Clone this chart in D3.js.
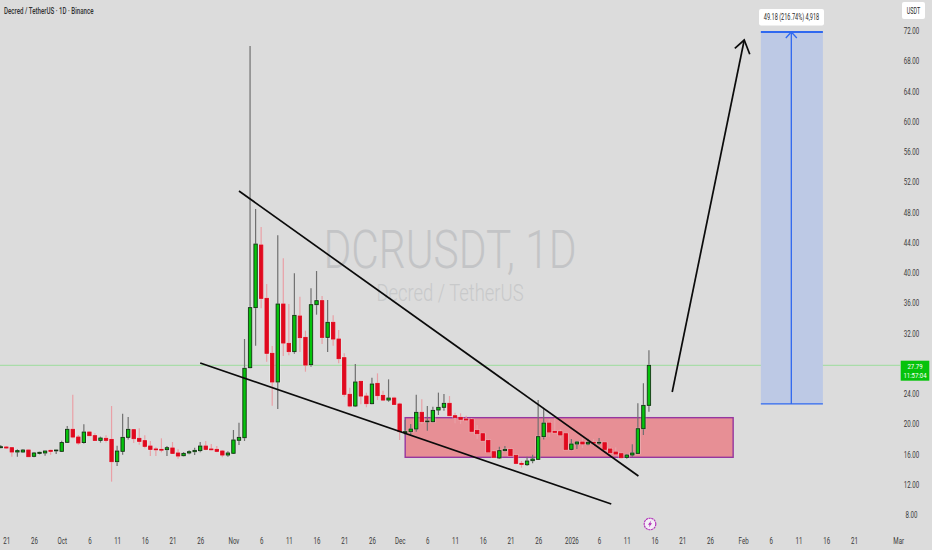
<!DOCTYPE html>
<html>
<head>
<meta charset="utf-8">
<script src="https://cdn.jsdelivr.net/npm/d3@7/dist/d3.min.js"></script>
<style>
html,body{margin:0;padding:0;background:#dcdcdc;overflow:hidden}
svg{display:block}
text{font-family:Roboto,"Liberation Sans",sans-serif}
</style>
</head>
<body>
<div id="chart"></div>
<script>
// Day offset from 1 Oct 2025 of the first candle; one candle per day
const firstDay = -11;
const opens = [16.90,16.99,16.90,16.33,16.33,16.59,15.76,16.15,16.20,16.55,16.51,16.42,17.61,19.33,18.31,17.58,18.97,18.49,17.87,18.14,18.00,15.05,16.42,18.27,19.28,18.14,17.83,17.12,16.73,16.68,16.64,16.86,16.20,15.84,16.20,16.37,16.51,17.12,16.73,16.68,16.46,15.93,16.16,17.88,18.22,27.48,35.42,43.70,36.65,29.38,25.59,35.90,30.70,29.60,34.31,31.49,27.88,35.81,36.34,31.49,33.48,31.27,28.80,23.96,22.41,25.67,23.73,22.72,25.41,23.82,23.20,23.47,22.68,18.89,19.02,19.37,21.58,20.34,20.34,21.88,22.24,22.77,21.13,20.91,20.69,20.61,19.19,18.75,17.87,16.37,15.54,16.51,16.68,15.89,14.83,14.65,15.18,15.36,18.36,20.16,19.06,19.02,18.75,16.68,17.39,17.65,17.39,17.61,17.52,17.56,16.73,16.33,16.11,15.62,15.93,16.15,19.41,22.50];
const highs = [17.26,17.12,16.95,16.68,16.73,16.64,16.33,16.37,16.51,16.64,16.64,17.83,19.77,23.91,18.58,19.99,19.02,18.80,18.36,18.53,22.41,17.17,21.40,20.96,19.37,19.46,18.53,17.78,16.95,18.14,17.12,17.65,16.68,16.33,16.55,16.90,17.65,17.78,17.39,17.12,16.59,16.42,19.24,20.21,31.27,70.02,48.46,46.08,38.55,30.35,44.98,41.94,35.90,39.96,36.87,32.37,37.97,40.26,36.96,36.43,34.40,32.46,29.38,24.84,27.97,25.76,24.17,26.16,26.73,24.44,25.94,23.65,22.85,20.56,20.03,23.91,23.29,22.41,22.32,24.18,24.00,23.73,21.53,21.44,21.13,20.78,19.90,18.89,18.05,16.59,17.03,17.12,16.81,16.07,15.14,15.71,15.98,23.21,22.10,20.69,20.78,19.33,18.80,18.05,17.78,18.18,18.09,18.05,18.18,17.65,16.95,16.95,16.24,16.06,17.34,22.77,25.41,29.77];
const lows = [16.81,16.77,15.71,15.71,16.24,15.67,15.63,16.02,15.84,15.98,16.07,16.33,17.52,18.14,17.30,17.43,18.45,17.78,17.58,17.58,12.41,14.48,15.98,18.00,17.52,17.30,16.81,15.80,15.80,16.29,15.80,16.11,15.45,15.76,16.02,15.93,16.29,16.55,16.55,16.29,15.63,15.71,16.07,17.26,17.79,27.39,30.39,35.33,28.27,22.45,22.01,29.02,29.11,29.33,29.55,26.95,27.61,34.49,30.61,29.55,30.39,28.05,23.65,22.24,22.32,22.63,22.24,22.63,23.20,23.07,22.98,22.54,17.92,18.58,18.58,19.02,20.03,19.15,20.25,21.22,21.80,21.09,20.12,20.03,20.25,18.97,18.05,17.78,16.24,15.54,15.40,16.42,15.76,14.70,14.26,14.48,14.83,15.27,18.00,18.31,18.80,18.14,16.59,16.55,16.73,16.86,17.21,17.12,17.25,16.59,16.15,15.93,15.49,15.45,15.71,16.06,18.58,21.66];
const closes = [17.03,16.86,16.33,16.51,16.59,15.71,16.20,16.29,16.46,16.42,16.59,17.58,19.33,18.31,17.52,18.97,18.49,17.87,18.18,17.87,15.05,16.46,18.27,19.33,18.09,17.74,17.08,16.68,16.64,16.59,16.90,16.15,15.80,16.15,16.37,16.55,17.12,16.68,16.64,16.42,15.93,16.20,17.92,18.27,27.40,35.42,43.83,36.65,29.38,25.59,35.90,30.74,29.60,34.40,31.45,27.83,35.81,36.34,31.49,33.48,31.27,28.67,23.96,22.41,25.59,23.73,22.72,25.32,23.78,23.20,23.47,22.63,19.02,19.02,19.37,21.58,20.34,20.43,21.84,22.24,22.77,21.13,20.91,20.65,20.56,19.06,18.75,17.87,16.33,15.63,16.51,16.68,15.84,14.83,14.70,15.14,15.40,18.36,20.16,18.97,18.93,18.58,16.68,17.39,17.65,17.39,17.61,17.52,17.61,16.68,16.24,16.06,15.58,15.93,16.20,19.41,22.50,27.79];

const priceTicks = [8,12,16,20,24,32,36,40,44,48,52,56,60,64,68,72];
const timeTickDays = [-10,-5,0,5,10,15,20,25,31,36,41,46,51,56,61,66,71,76,81,86,92,97,102,107,112,117,123,128,133,138,143,151];
const timeTickLabels = ["21","26","Oct","6","11","16","21","26","Nov","6","11","16","21","26","Dec","6","11","16","21","26","2026","6","11","16","21","26","Feb","6","11","16","21","Mar"];

// Drawings, as [day, price]
const upperWedge = [[32.0,50.84],[104.1,13.16]];
const lowerWedge = [[25.0,28.10],[99.2,9.45]];
const bigArrowShaft = [[110.2,24.26],[123.2,70.81]];
const bigArrowHead = [[121.5,69.71],[123.2,70.81],[124.2,68.92]];
const demandZone = {day0:62, day1:121.2, top:20.87, bottom:15.63};
const projection = {day0:126.2, day1:137.4, dayMid:131.7, from:22.69, to:71.87};
const lastPrice = 27.79;
const projectionLabel = "49.18 (216.74%) 4,918";
const countdown = "11:57:04";
const titleText = "Decred / TetherUS · 1D · Binance";

const W = 932, H = 550;
const x = d3.scaleLinear().domain([0,106]).range([61.7,61.7+106*5.54]);
const y = d3.scaleLinear().domain([8,72]).range([515,31]);

const svg = d3.select("#chart").append("svg").attr("width",W).attr("height",H);
svg.append("rect").attr("width",W).attr("height",H).attr("fill","#dcdcdc");
const line = d3.line().x(d=>x(d[0])).y(d=>y(d[1]));
function squeeze(sel,k){
  sel.each(function(){
    const n=this.getComputedTextLength();
    d3.select(this).attr("textLength",n*k).attr("lengthAdjust","spacingAndGlyphs");
  });
  return sel;
}

// Watermark
svg.append("text").attr("x",450).attr("y",268).attr("text-anchor","middle")
  .style("font-family","Roboto").style("font-weight",300).attr("font-size",53).attr("fill","#c3c4c6").text("DCRUSDT, 1D").call(squeeze,0.80);
svg.append("text").attr("x",450).attr("y",300.5).attr("text-anchor","middle")
  .style("font-family","Roboto").style("font-weight",300).attr("font-size",23).attr("fill","#c8c9ca").text("Decred / TetherUS").call(squeeze,0.8);

// Last price line
svg.append("line").attr("x1",0).attr("x2",900).attr("y1",y(lastPrice)).attr("y2",y(lastPrice))
  .attr("stroke","#a9dca9").attr("stroke-width",1.2);

// Demand zone
svg.append("rect").attr("x",x(demandZone.day0)).attr("y",y(demandZone.top))
  .attr("width",x(demandZone.day1)-x(demandZone.day0)).attr("height",y(demandZone.bottom)-y(demandZone.top))
  .attr("fill","#e78f95").attr("stroke","#96379f").attr("stroke-width",1.4);

// Candles
const candles = opens.map((o,i)=>({day:firstDay+i,o,h:highs[i],l:lows[i],c:closes[i],up:closes[i]>=o}));
const g = svg.append("g");
g.selectAll("line.w").data(candles).join("line")
  .attr("x1",d=>x(d.day)).attr("x2",d=>x(d.day)).attr("y1",d=>y(d.h)).attr("y2",d=>y(d.l))
  .attr("stroke",d=>d.up?"#707070":"#e9a0a6").attr("stroke-width",1.2);
g.selectAll("rect.h").data(candles).join("rect")
  .attr("x",d=>x(d.day)-2.8).attr("width",5.6)
  .attr("y",d=>Math.min(y(d.o),y(d.c))-0.9).attr("height",d=>Math.abs(y(d.o)-y(d.c))+1.8)
  .attr("fill","#ffffff").attr("opacity",0.35);
g.selectAll("rect.b").data(candles).join("rect")
  .attr("x",d=>x(d.day)-1.7).attr("width",3.4)
  .attr("y",d=>Math.min(y(d.o),y(d.c))).attr("height",d=>Math.max(Math.abs(y(d.o)-y(d.c)),0.8))
  .attr("fill",d=>d.up?"#06c30c":"#e0091e")
  .attr("stroke",d=>d.up?"#123012":"#e0091e").attr("stroke-width",0.9);

// Wedge lines and arrow
[upperWedge,lowerWedge,bigArrowShaft].forEach(p=>{
  svg.append("path").attr("d",line(p)).attr("fill","none").attr("stroke","#0b0b0b").attr("stroke-width",1.7);
});
svg.append("path").attr("d",line(bigArrowHead)).attr("fill","none").attr("stroke","#0b0b0b").attr("stroke-width",1.7);

// Projection box
svg.append("rect").attr("x",x(projection.day0)).attr("y",y(projection.to))
  .attr("width",x(projection.day1)-x(projection.day0)).attr("height",y(projection.from)-y(projection.to))
  .attr("fill","#bdc9e5");
[projection.to,projection.from].forEach(v=>{
  svg.append("line").attr("x1",x(projection.day0)).attr("x2",x(projection.day1)).attr("y1",y(v)).attr("y2",y(v))
    .attr("stroke","#2f68f0").attr("stroke-width",v===projection.to?1.8:1.3);
});
svg.append("line").attr("x1",x(projection.dayMid)).attr("x2",x(projection.dayMid)).attr("y1",y(projection.from)).attr("y2",y(projection.to))
  .attr("stroke","#2f68f0").attr("stroke-width",1.3);
svg.append("path")
  .attr("d",`M${x(projection.dayMid)-5.5},${y(projection.to)+6}L${x(projection.dayMid)},${y(projection.to)}L${x(projection.dayMid)+5.5},${y(projection.to)+6}`)
  .attr("fill","none").attr("stroke","#2f68f0").attr("stroke-width",1.3);

// Projection label
svg.append("rect").attr("x",759).attr("y",9).attr("width",65).attr("height",16.5).attr("rx",2).attr("fill","#ffffff");
svg.append("text").attr("x",791.5).attr("y",20).attr("text-anchor","middle").attr("font-size",8.2).attr("fill","#2a2a2a")
  .text(projectionLabel).call(squeeze,0.68);

// Axes
const xAxis = d3.axisBottom(x).tickValues(timeTickDays).tickSize(0).tickFormat((d,i)=>timeTickLabels[i]);
const gx = svg.append("g").attr("transform","translate(0,535.5)").call(xAxis);
gx.select(".domain").remove();
gx.selectAll("text").attr("font-family","Roboto").attr("font-size",8.2).attr("fill","#3a3a3a").call(squeeze,0.75);

const yAxis = d3.axisRight(y).tickValues(priceTicks).tickSize(0).tickPadding(0).tickFormat(d3.format(".2f"));
const gy = svg.append("g").attr("transform","translate(911.5,0)").call(yAxis);
gy.select(".domain").remove();
gy.selectAll("text").attr("text-anchor","middle").attr("font-family","Roboto").attr("font-size",8.2).attr("fill","#3a3a3a").call(squeeze,0.75);

// Currency button
svg.append("rect").attr("x",902).attr("y",2).attr("width",23).attr("height",17).attr("rx",2).attr("fill","#ffffff");
svg.append("text").attr("x",913.5).attr("y",14).attr("text-anchor","middle").attr("font-size",8.2).attr("fill","#2a2a2a").text("USDT").call(squeeze,0.66);

// Last price label
svg.append("rect").attr("x",900.7).attr("y",360.7).attr("width",28.6).attr("height",20).attr("fill","#06c30c");
svg.append("text").attr("x",915).attr("y",368.8).attr("text-anchor","middle").attr("font-size",8).attr("fill","#ffffff").text(d3.format(".2f")(lastPrice)).call(squeeze,0.75);
svg.append("text").attr("x",915).attr("y",378).attr("text-anchor","middle").attr("font-size",8).attr("fill","#ffffff").text(countdown).call(squeeze,0.75);

// Title
svg.append("text").attr("x",4).attr("y",13.5).attr("font-size",8.8).attr("font-weight",500).attr("fill","#333333").text(titleText).call(squeeze,0.7);

// Event marker
const ev = svg.append("g").attr("transform","translate(650,524)");
ev.append("circle").attr("r",5.8).attr("fill","#f4eef6").attr("stroke","#b02ab8").attr("stroke-width",1.1).attr("stroke-dasharray","2.2 0.6");
ev.append("path").attr("d","M1.2,-3.6L-2,0.7L-0.3,0.7L-1.2,3.6L2,-0.7L0.3,-0.7Z").attr("fill","#b02ab8");
</script>
</body>
</html>
